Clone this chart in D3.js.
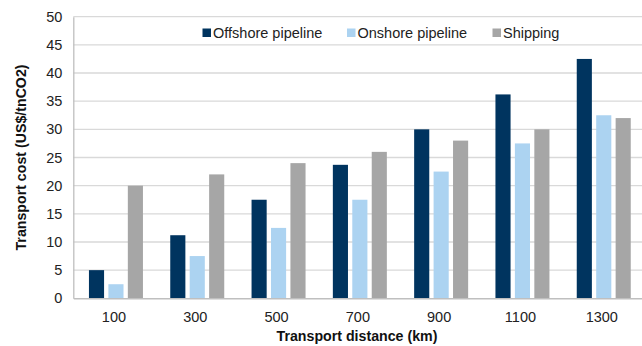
<!DOCTYPE html>
<html><head><meta charset="utf-8">
<script src="https://cdn.jsdelivr.net/npm/d3@7"></script>
<style>body{margin:0;background:#fff;}svg{display:block;font-family:"Liberation Sans",Arial,sans-serif;}</style>
</head><body>
<script>
const categories = ["100","300","500","700","900","1100","1300"];
const seriesNames = ["Offshore pipeline","Onshore pipeline","Shipping"];
const offshore = [5, 11.2, 17.5, 23.7, 30, 36.2, 42.5];
const onshore = [2.5, 7.5, 12.5, 17.5, 22.5, 27.5, 32.5];
const shipping = [20, 22, 24, 26, 28, 30, 32];
const yTicks = [0,5,10,15,20,25,30,35,40,45,50];
const colors = ["#00345f","#acd3f1","#a6a6a6"];

const W=642,H=346;
const m={l:73.3,r:0,t:16.7,b:47.7};
const FS=14.5;
const svg=d3.select("body").append("svg").attr("width",W).attr("height",H);
const x=d3.scaleBand().domain(categories).range([m.l,m.l+7*81.3]).paddingInner(0).paddingOuter(0);
const y=d3.scaleLinear().domain([0,50]).range([H-m.b,m.t]);
const xs=d3.scaleBand().domain(seriesNames).range([x.bandwidth()/2-25, x.bandwidth()/2+29]).paddingInner(4/18).paddingOuter(0);

// gridlines
svg.append("g").selectAll("line").data(yTicks.filter(d=>d>0)).join("line")
  .attr("x1",m.l).attr("x2",W).attr("y1",d=>y(d)).attr("y2",d=>y(d))
  .attr("stroke","#d9d9d9").attr("stroke-width",1.3);

const data=[offshore,onshore,shipping];
seriesNames.forEach((s,i)=>{
  svg.append("g").selectAll("rect").data(categories).join("rect")
    .attr("x",c=>x(c)+xs(s)).attr("width",xs.bandwidth())
    .attr("y",(c,j)=>y(data[i][j])).attr("height",(c,j)=>y(0)-y(data[i][j]))
    .attr("fill",colors[i]);
});

// axes
const ya=svg.append("g").attr("transform",`translate(${m.l},0)`).call(d3.axisLeft(y).tickValues(yTicks).tickSize(0).tickPadding(11));
ya.select(".domain").attr("stroke","#bfbfbf").attr("stroke-width",1.3);
ya.selectAll("text").attr("font-size",FS).attr("fill","#222").attr("font-family","Liberation Sans, Arial, sans-serif");
const xa=svg.append("g").attr("transform",`translate(0,${y(0)})`).call(d3.axisBottom(x).tickSize(0).tickPadding(13));
xa.select(".domain").attr("stroke","#bfbfbf").attr("stroke-width",1.6);
xa.selectAll("text").attr("font-size",FS).attr("fill","#222").attr("font-family","Liberation Sans, Arial, sans-serif");

// titles
svg.append("text").attr("x",357).attr("y",341).attr("text-anchor","middle")
  .attr("font-size",14.2).attr("font-weight","bold").attr("fill","#111").text("Transport distance (km)");
svg.append("text").attr("transform",`translate(26,${(y(0)+y(50))/2}) rotate(-90)`).attr("text-anchor","middle")
  .attr("font-size",14.2).attr("font-weight","bold").attr("fill","#111").text("Transport cost (US$/tnCO2)");

// legend
const legX=[202.5,347,492.5];
const lg=svg.append("g");
seriesNames.forEach((s,i)=>{
  lg.append("rect").attr("x",legX[i]).attr("y",28.5).attr("width",8.5).attr("height",8.5).attr("fill",colors[i]);
  lg.append("text").attr("x",legX[i]+10.5).attr("y",38).attr("font-size",FS).attr("fill","#222").text(s);
});
</script>
</body></html>
